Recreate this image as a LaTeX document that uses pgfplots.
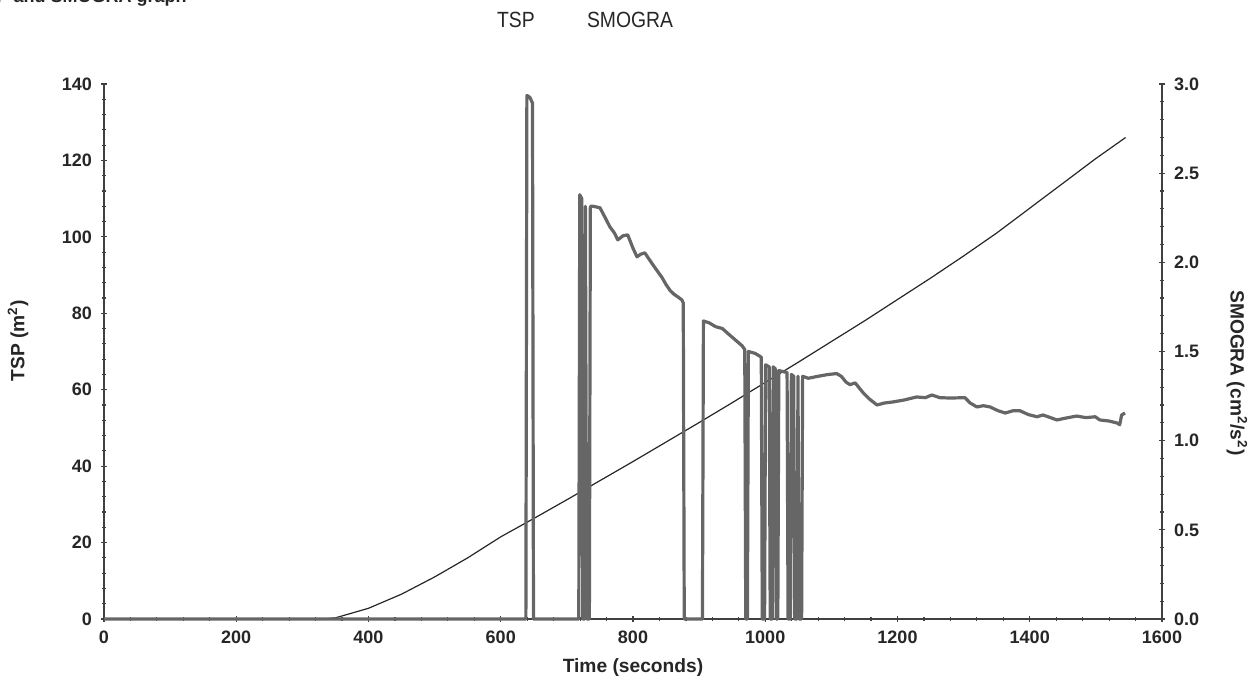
\documentclass[border=0pt]{standalone}
\usepackage{pgfplots}
\pgfplotsset{compat=1.18}
\usepackage{fontspec}
\setmainfont{Liberation Sans}
\begin{document}
\begin{tikzpicture}
\pgfplotsset{
  common/.style={
    width=529pt, height=267.5pt, scale only axis,
    xmin=0, xmax=1600,
    tick align=outside, major tick length=3pt, minor tick length=1.8pt,
    tick style={black!75, line width=0.6pt},
    /pgf/number format/assume math mode=true,
    /pgf/number format/set thousands separator={},
    ticklabel style={font=\bfseries\fontsize{9}{10}\selectfont, text=black!85},
  },
  noarrows/.style={
    axis line style={-, black!75, line width=0.7pt},
    every outer x axis line/.append style={-},
    every outer y axis line/.append style={-},
    x axis line style={-},
    y axis line style={-},
  }
}
\begin{axis}[common,
  axis x line=bottom, axis y line=left, noarrows,
  ymin=0, ymax=140,
  xtick={0,200,400,600,800,1000,1200,1400,1600},
  ytick={0,20,40,60,80,100,120,140},
  minor x tick num=4, minor y tick num=4,
  xticklabel style={yshift=-1pt},
  yticklabel style={xshift=-1pt},
  clip=false,
]
% TSP (m^2), left axis
\addplot[black!85, line width=0.6pt] coordinates {
(0,0) (330,0) (350,0.3) (400,2.8) (450,6.5) (500,11) (550,16) (600,21.5)
(650,26.3) (700,31.2) (750,36.2) (800,41.2) (850,46.3) (900,51.4) (950,56.6)
(1000,61.9) (1050,67.2) (1100,72.6) (1150,78) (1200,83.6) (1250,89.2)
(1300,95) (1350,101) (1400,107.5) (1450,114) (1500,120.5) (1545,126)
};
\node[font=\bfseries\fontsize{9.6}{11}\selectfont, text=black!85, rotate=90, anchor=center] at (rel axis cs:-0.0813,0.52) {TSP (m\textsuperscript{2})};
\node[font=\bfseries\fontsize{9.6}{11}\selectfont, text=black!85, anchor=center] at (rel axis cs:0.5,-0.0916) {Time (seconds)};
\node[font=\fontsize{11}{12}\selectfont, text=black!85, anchor=center] at (rel axis cs:0.3894,1.1196) {\scalebox{0.88}[1]{TSP}};
\node[font=\fontsize{11}{12}\selectfont, text=black!85, anchor=center] at (rel axis cs:0.4972,1.1196) {\scalebox{0.88}[1]{SMOGRA}};
\node[font=\bfseries\fontsize{9}{10}\selectfont, text=black!85, anchor=base east, inner sep=0pt] at (rel axis cs:0.0785,1.1528) {TSP and SMOGRA graph};
\coordinate (LL) at (rel axis cs:0,0);
\coordinate (UR) at (rel axis cs:1,1);
\end{axis}
\begin{axis}[common,
  axis y line=right, axis x line=none, noarrows,
  ymin=0, ymax=3,
  ytick={0,0.5,1,1.5,2,2.5,3},
  minor y tick num=4,
  /pgf/number format/fixed,
  /pgf/number format/fixed zerofill,
  /pgf/number format/precision=1,
  yticklabel style={xshift=1pt},
  clip=false,
]
% SMOGRA (cm^2/s^2), right axis
\addplot[black!60, line width=1.6pt, line join=round] coordinates {
(0,0) (638,0) (639.5,2.936) (644,2.925) (648,2.893) (649.5,0)
(718,0) (719.5,2.379) (722.5,2.357) (724,0) (727,0) (728,2.314) (730,0)
(734,0) (735.5,2.314) (740,2.314) (750,2.306) (758,2.25) (765,2.199)
(772,2.164) (777,2.126) (785,2.149) (792,2.154) (800,2.079) (806,2.031)
(812,2.046) (818,2.053) (825,2.014) (833,1.971) (844,1.914) (850,1.875)
(856,1.843) (862,1.821) (868,1.806) (874,1.789) (876,1.772) (877.5,0)
(905,0) (906.5,1.671) (915,1.661) (925,1.639) (935,1.629) (945,1.596)
(955,1.564) (965,1.532) (969,1.511) (970.5,0) (973,0) (974.5,1.5)
(985,1.489) (994,1.468) (995.5,0) (999,0) (1000.5,1.425) (1006,1.414)
(1007.5,0) (1010.5,0) (1012,1.414) (1015,1.404) (1016.5,0) (1019,0)
(1020.5,1.393) (1033,1.382) (1034.5,0) (1038,0) (1039.5,1.371) (1043,1.361)
(1044.5,0) (1048,0) (1049.5,1.361) (1051,0) (1055,0) (1056.5,1.361)
(1065,1.35) (1080,1.361) (1095,1.371) (1108,1.376) (1115,1.361) (1122,1.329)
(1128,1.314) (1136,1.324) (1142,1.296) (1148,1.269) (1158,1.232) (1169,1.2)
(1180,1.211) (1193,1.217) (1210,1.228) (1229,1.245) (1242,1.241) (1252,1.256)
(1264,1.241) (1280,1.239) (1302,1.241) (1310,1.211) (1320,1.189) (1330,1.196)
(1340,1.189) (1352,1.168) (1363,1.155) (1375,1.168) (1385,1.168) (1398,1.146)
(1411,1.134) (1420,1.144) (1430,1.131) (1441,1.116) (1455,1.127) (1471,1.138)
(1485,1.129) (1499,1.134) (1506,1.116) (1520,1.11) (1532,1.099) (1536,1.089)
(1539,1.144) (1544,1.155)
};
\node[font=\bfseries\fontsize{9.6}{11}\selectfont, text=black!85, rotate=-90, anchor=center] at (rel axis cs:1.0709,0.46) {SMOGRA (cm\textsuperscript{2}/s\textsuperscript{2})};
\end{axis}
\pgfresetboundingbox
\path[use as bounding box] ([xshift=-52pt,yshift=-32pt]LL) rectangle ([xshift=46pt,yshift=42pt]UR);
\end{tikzpicture}
\end{document}
